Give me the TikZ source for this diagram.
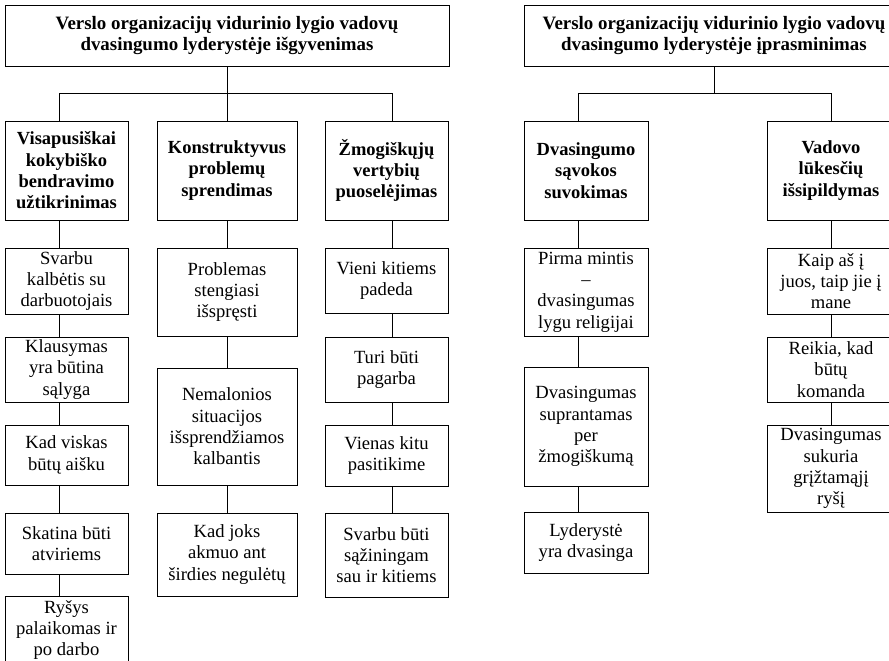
\documentclass[tikz,border=0pt]{standalone}
\usepackage{fontspec}
\setmainfont{Liberation Serif}
\tikzset{
  box/.style={draw, line width=0.9pt, inner sep=0pt, align=center,
    font=\fontsize{18.6}{21.3}\selectfont},
  hbox/.style={box, font=\fontsize{18.5}{21.3}\selectfont\bfseries},
  tbox/.style={box, font=\fontsize{18.9}{20.8}\selectfont\bfseries},
  link/.style={line width=0.9pt},
}
\newcommand{\bx}[7]{% style, name, x1, x2, y1, y2, text
  \node[#1, minimum width=#4-#3, minimum height=#6-#5] (#2) at ({(#3+#4)/2},{(#5+#6)/2}) {#7};}
\begin{document}
\begin{tikzpicture}[x=1pt,y=-1pt]
\clip (0,0) rectangle (889,661);
\fill[white] (0,0) rectangle (889,661);
% top boxes
\bx{tbox}{T1}{5}{449}{5}{66}{Verslo organizacijų vidurinio lygio vadovų\\dvasingumo lyderystėje išgyvenimas}
\bx{tbox}{T2}{524}{904}{5}{66}{Verslo organizacijų vidurinio lygio vadovų\\dvasingumo lyderystėje įprasminimas}
% category boxes
\bx{hbox}{A}{5}{128}{121}{220}{Visapusiškai\\kokybiško\\bendravimo\\užtikrinimas}
\bx{hbox}{B}{157}{297}{121}{220}{Konstruktyvus\\problemų\\sprendimas}
\bx{hbox}{C}{325}{448}{121}{220}{Žmogiškųjų\\vertybių\\puoselėjimas}
\bx{hbox}{D}{524}{648}{121}{220}{Dvasingumo\\sąvokos\\suvokimas}
\bx{hbox}{E}{767}{895}{121}{220}{Vadovo\\lūkesčių\\išsipildymas}
% column A
\bx{box}{A1}{5}{128}{248}{314}{Svarbu\\kalbėtis su\\darbuotojais}
\bx{box}{A2}{5}{128}{337}{402}{Klausymas\\yra būtina\\sąlyga}
\bx{box}{A3}{5}{128}{425}{485}{Kad viskas\\būtų aišku}
\bx{box}{A4}{5}{128}{513}{574}{Skatina būti\\atviriems}
\bx{box}{A5}{5}{128}{596}{664}{Ryšys\\palaikomas ir\\po darbo}
% column B
\bx{box}{B1}{157}{297}{248}{336}{Problemas\\stengiasi\\išspręsti}
\bx{box}{B2}{157}{297}{368}{485}{Nemalonios\\situacijos\\išsprendžiamos\\kalbantis}
\bx{box}{B3}{157}{297}{513}{596}{Kad joks\\akmuo ant\\širdies negulėtų}
% column C
\bx{box}{C1}{325}{448}{248}{313}{Vieni kitiems\\padeda}
\bx{box}{C2}{325}{448}{337}{402}{Turi būti\\pagarba}
\bx{box}{C3}{325}{448}{425}{486}{Vienas kitu\\pasitikime}
\bx{box}{C4}{325}{448}{513}{597}{Svarbu būti\\sąžiningam\\sau ir kitiems}
% column D
\bx{box}{D1}{524}{648}{248}{336}{Pirma mintis\\–\\dvasingumas\\lygu religijai}
\bx{box}{D2}{524}{648}{367}{486}{Dvasingumas\\suprantamas\\per\\žmogiškumą}
\bx{box}{D3}{524}{648}{512}{573}{Lyderystė\\yra dvasinga}
% column E
\bx{box}{E1}{767}{895}{248}{314}{Kaip aš į\\juos, taip jie į\\mane}
\bx{box}{E2}{767}{895}{337}{402}{Reikia, kad\\būtų\\komanda}
\bx{box}{E3}{767}{895}{425}{512}{Dvasingumas\\sukuria\\grįžtamąjį\\ryšį}
% tree connectors
\coordinate (j1) at (227,93);
\coordinate (j2) at (714,93);
\draw[link] (T1.south) -- (j1);
\draw[link] ([xshift=-7.5pt]A.north) -- ([xshift=-7.5pt]A.north |- j1) -- ([xshift=5.5pt]C.north |- j1) -- ([xshift=5.5pt]C.north);
\draw[link] (B.north) -- (B.north |- j1);
\draw[link] (T2.south) -- (j2);
\draw[link] ([xshift=-8pt]D.north) -- ([xshift=-8pt]D.north |- j2) -- (E.north |- j2) -- (E.north);
% column connectors
\foreach \u/\v in {A/A1,A1/A2,A2/A3,A3/A4,A4/A5}
  \draw[link] ([xshift=-7.5pt]\u.south) -- ([xshift=-7.5pt]\v.north);
\foreach \u/\v in {B/B1,B1/B2,B2/B3}
  \draw[link] (\u.south) -- (\v.north);
\foreach \u/\v in {C/C1,C1/C2,C2/C3,C3/C4}
  \draw[link] ([xshift=5.5pt]\u.south) -- ([xshift=5.5pt]\v.north);
\foreach \u/\v in {D/D1,D1/D2,D2/D3}
  \draw[link] ([xshift=-8pt]\u.south) -- ([xshift=-8pt]\v.north);
\foreach \u/\v in {E/E1,E1/E2,E2/E3}
  \draw[link] (\u.south) -- (\v.north);
\end{tikzpicture}
\end{document}
